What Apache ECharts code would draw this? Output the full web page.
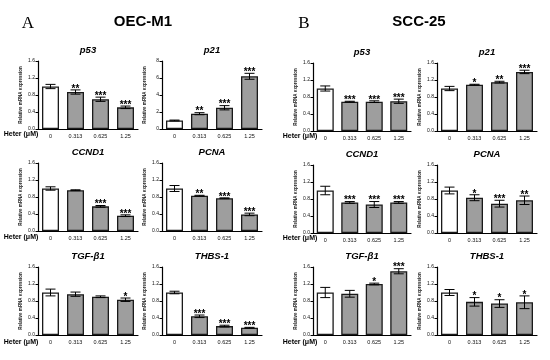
<!DOCTYPE html>
<html><head><meta charset="utf-8">
<script src="https://cdn.jsdelivr.net/npm/echarts@6/dist/echarts.min.js"></script>
<style>html,body{margin:0;padding:0;background:#fff}#c{width:550px;height:360px}</style>
</head><body><div id="c"></div>
<script>
// Categories
const doses = ['0', '0.313', '0.625', '1.25'];

// OEC-M1 (panel A)
const oecP53 = [1.00, 0.87, 0.70, 0.51];
const oecP53Err = [0.05, 0.05, 0.05, 0.03];
const oecP53Sig = ['', '**', '***', '***'];
const oecP21 = [1.00, 1.80, 2.50, 6.20];
const oecP21Err = [0.05, 0.12, 0.25, 0.35];
const oecP21Sig = ['', '**', '***', '***'];
const oecCcnd1 = [1.00, 0.96, 0.58, 0.36];
const oecCcnd1Err = [0.04, 0.01, 0.02, 0.02];
const oecCcnd1Sig = ['', '', '***', '***'];
const oecPcna = [1.00, 0.83, 0.77, 0.39];
const oecPcnaErr = [0.07, 0.01, 0.01, 0.03];
const oecPcnaSig = ['', '**', '***', '***'];
const oecTgf = [1.00, 0.96, 0.90, 0.83];
const oecTgfErr = [0.08, 0.05, 0.02, 0.04];
const oecTgfSig = ['', '', '', '*'];
const oecThbs = [1.00, 0.44, 0.21, 0.17];
const oecThbsErr = [0.03, 0.03, 0.02, 0.01];
const oecThbsSig = ['', '***', '***', '***'];

// SCC-25 (panel B)
const sccP53 = [1.00, 0.69, 0.69, 0.70];
const sccP53Err = [0.06, 0.01, 0.02, 0.05];
const sccP53Sig = ['', '***', '***', '***'];
const sccP21 = [1.00, 1.09, 1.15, 1.39];
const sccP21Err = [0.05, 0.01, 0.02, 0.04];
const sccP21Sig = ['', '*', '**', '***'];
const sccCcnd1 = [1.00, 0.72, 0.67, 0.72];
const sccCcnd1Err = [0.10, 0.02, 0.07, 0.02];
const sccCcnd1Sig = ['', '***', '***', '***'];
const sccPcna = [1.00, 0.83, 0.69, 0.77];
const sccPcnaErr = [0.08, 0.07, 0.08, 0.10];
const sccPcnaSig = ['', '*', '***', '**'];
const sccTgf = [1.00, 0.97, 1.20, 1.50];
const sccTgfErr = [0.12, 0.08, 0.02, 0.06];
const sccTgfSig = ['', '', '*', '***'];
const sccThbs = [1.00, 0.78, 0.74, 0.77];
const sccThbsErr = [0.07, 0.10, 0.09, 0.15];
const sccThbsSig = ['', '*', '*', '*'];

// Y-axis ranges
const yMaxStd = 1.6, yStepStd = 0.4;
const yMaxP21 = 8, yStepP21 = 2;

const panels = [
  {title: 'p53',    v: oecP53,   e: oecP53Err,   s: oecP53Sig,   col: 0, row: 0, max: yMaxStd, step: yStepStd, dec: 1},
  {title: 'p21',    v: oecP21,   e: oecP21Err,   s: oecP21Sig,   col: 1, row: 0, max: yMaxP21, step: yStepP21, dec: 0},
  {title: 'CCND1',  v: oecCcnd1, e: oecCcnd1Err, s: oecCcnd1Sig, col: 0, row: 1, max: yMaxStd, step: yStepStd, dec: 1},
  {title: 'PCNA',   v: oecPcna,  e: oecPcnaErr,  s: oecPcnaSig,  col: 1, row: 1, max: yMaxStd, step: yStepStd, dec: 1},
  {title: 'TGF-β1', v: oecTgf,   e: oecTgfErr,   s: oecTgfSig,   col: 0, row: 2, max: yMaxStd, step: yStepStd, dec: 1},
  {title: 'THBS-1', v: oecThbs,  e: oecThbsErr,  s: oecThbsSig,  col: 1, row: 2, max: yMaxStd, step: yStepStd, dec: 1},
  {title: 'p53',    v: sccP53,   e: sccP53Err,   s: sccP53Sig,   col: 2, row: 0, max: yMaxStd, step: yStepStd, dec: 1},
  {title: 'p21',    v: sccP21,   e: sccP21Err,   s: sccP21Sig,   col: 3, row: 0, max: yMaxStd, step: yStepStd, dec: 1},
  {title: 'CCND1',  v: sccCcnd1, e: sccCcnd1Err, s: sccCcnd1Sig, col: 2, row: 1, max: yMaxStd, step: yStepStd, dec: 1},
  {title: 'PCNA',   v: sccPcna,  e: sccPcnaErr,  s: sccPcnaSig,  col: 3, row: 1, max: yMaxStd, step: yStepStd, dec: 1},
  {title: 'TGF-β1', v: sccTgf,   e: sccTgfErr,   s: sccTgfSig,   col: 2, row: 2, max: yMaxStd, step: yStepStd, dec: 1},
  {title: 'THBS-1', v: sccThbs,  e: sccThbsErr,  s: sccThbsSig,  col: 3, row: 2, max: yMaxStd, step: yStepStd, dec: 1}
];

// layout
const colLeft = [38, 162, 313, 437];
const colWidth = [100, 100, 98, 100];
const rowTopA = [61, 163, 267];
const rowTopB = [63, 165, 267];
const plotH = 68;

const grids = [], xAxes = [], yAxes = [], series = [], graphics = [];
const FONT = 'Liberation Sans, Arial, sans-serif';

panels.forEach((p, i) => {
  const top = (p.col < 2 ? rowTopA : rowTopB)[p.row];
  const left = colLeft[p.col], w = colWidth[p.col];
  grids.push({left: left, top: top, width: w, height: plotH, containLabel: false});
  xAxes.push({
    type: 'category', gridIndex: i, data: doses,
    axisLine: {lineStyle: {color: '#000', width: 1.2}},
    axisTick: {show: false},
    axisLabel: {fontSize: 5.5, color: '#111', margin: 4, fontFamily: FONT}
  });
  yAxes.push({
    type: 'value', gridIndex: i, min: 0, max: p.max, interval: p.step,
    name: 'Relative mRNA expression', nameLocation: 'middle', nameRotate: 90, nameGap: 15,
    nameTextStyle: {fontSize: 4.5, fontWeight: 'bold', color: '#222', fontFamily: FONT},
    axisLine: {show: true, lineStyle: {color: '#000', width: 1.2}},
    axisTick: {show: true, length: 2.5, lineStyle: {color: '#000'}},
    splitLine: {show: false},
    axisLabel: {fontSize: 5, color: '#111', margin: 3, fontFamily: FONT,
      formatter: v => v.toFixed(p.dec)}
  });
  series.push({
    type: 'bar', xAxisIndex: i, yAxisIndex: i, barWidth: 17,
    data: p.v.map((val, k) => ({value: val, itemStyle: {color: k === 0 ? '#ffffff' : '#9e9e9e'}})),
    itemStyle: {borderColor: '#1a1a1a', borderWidth: 1.3},
    silent: true
  });
  series.push({
    type: 'custom', xAxisIndex: i, yAxisIndex: i, silent: true, z: 5,
    data: p.v.map((val, k) => [k, val, p.e[k]]),
    renderItem: (params, api) => {
      const k = api.value(0), v = api.value(1), e = api.value(2);
      const hi = api.coord([k, v + e]);
      const lo = api.coord([k, v - e]);
      const cap = 5;
      const ls = {stroke: '#000', lineWidth: 1};
      const children = [
        {type: 'line', shape: {x1: hi[0], y1: hi[1], x2: lo[0], y2: lo[1]}, style: ls},
        {type: 'line', shape: {x1: hi[0] - cap, y1: hi[1], x2: hi[0] + cap, y2: hi[1]}, style: ls},
        {type: 'line', shape: {x1: lo[0] - cap, y1: lo[1], x2: lo[0] + cap, y2: lo[1]}, style: ls}
      ];
      const sig = p.s[k];
      if (sig) {
        children.push({type: 'text', x: hi[0], y: hi[1] + 4,
          style: {text: sig, fill: '#000', font: 'bold 10px ' + FONT,
            textAlign: 'center', textVerticalAlign: 'bottom', align: 'center', verticalAlign: 'bottom'}});
      }
      return {type: 'group', children: children};
    }
  });
  // panel title
  graphics.push({type: 'text', x: left + w / 2, y: top - 11,
    style: {text: p.title, fill: '#000', font: 'italic bold 9.5px ' + FONT,
      textAlign: 'center', textVerticalAlign: 'middle', align: 'center', verticalAlign: 'middle'}});
});

// "Heter (μM)" labels
[[21, 134], [21, 237], [21, 342], [300, 136], [300, 238], [300, 342]].forEach(pt => {
  graphics.push({type: 'text', x: pt[0], y: pt[1],
    style: {text: 'Heter (μM)', fill: '#000', font: 'bold 7px ' + FONT,
      textAlign: 'center', textVerticalAlign: 'middle', align: 'center', verticalAlign: 'middle'}});
});

// main labels
graphics.push({type: 'text', x: 28, y: 24, style: {text: 'A', fill: '#000', font: '17px Liberation Serif, Times New Roman, serif', textAlign: 'center', textVerticalAlign: 'middle', align: 'center', verticalAlign: 'middle'}});
graphics.push({type: 'text', x: 143, y: 22, style: {text: 'OEC-M1', fill: '#000', font: 'bold 15px ' + FONT, textAlign: 'center', textVerticalAlign: 'middle', align: 'center', verticalAlign: 'middle'}});
graphics.push({type: 'text', x: 304, y: 24, style: {text: 'B', fill: '#000', font: '17px Liberation Serif, Times New Roman, serif', textAlign: 'center', textVerticalAlign: 'middle', align: 'center', verticalAlign: 'middle'}});
graphics.push({type: 'text', x: 419, y: 22, style: {text: 'SCC-25', fill: '#000', font: 'bold 15px ' + FONT, textAlign: 'center', textVerticalAlign: 'middle', align: 'center', verticalAlign: 'middle'}});

const chart = echarts.init(document.getElementById('c'), null, {renderer: 'canvas'});
chart.setOption({
  animation: false,
  backgroundColor: '#fff',
  grid: grids, xAxis: xAxes, yAxis: yAxes, series: series,
  graphic: graphics
});
</script></body></html>
